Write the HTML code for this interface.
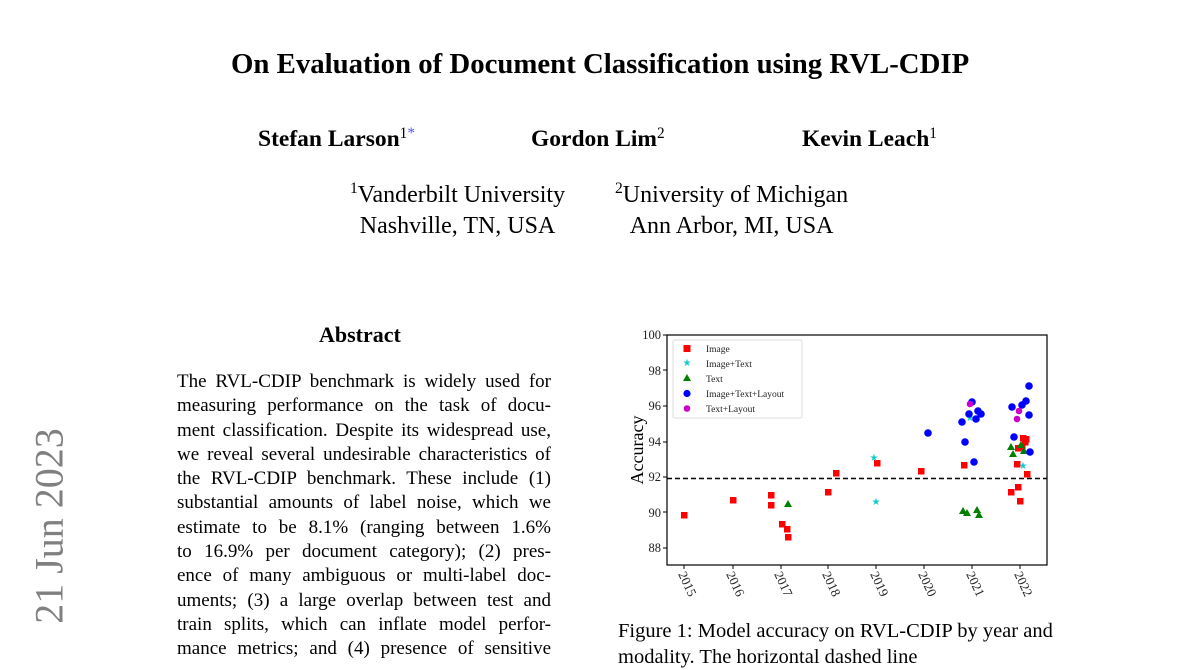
<!DOCTYPE html>
<html><head><meta charset="utf-8"><style>
body{margin:0;width:1200px;height:648px;background:#fff;overflow:hidden;position:relative;font-family:"Liberation Serif",serif;color:#000}
.a{position:absolute;white-space:nowrap}
.b{font-weight:bold}
sup{font-size:65%;vertical-align:0;position:relative;top:-0.55em;font-weight:normal}
.abs{position:absolute;left:177px;top:370px;width:374px;font-size:19px;line-height:24.3px}
.abs div{text-align:justify;text-align-last:justify;white-space:nowrap;height:24.3px}
</style></head><body>
<div class="a b" style="left:231px;top:48px;font-size:28.8px">On Evaluation of Document Classification using RVL-CDIP</div>
<div class="a b" style="left:258px;top:126px;font-size:23.5px">Stefan Larson<sup>1<span style="color:#55f">*</span></sup></div>
<div class="a b" style="left:531px;top:126px;font-size:23.5px">Gordon Lim<sup>2</sup></div>
<div class="a b" style="left:802px;top:126px;font-size:23.5px">Kevin Leach<sup>1</sup></div>
<div class="a" style="left:350px;top:181px;font-size:24px;text-align:center;line-height:28px"><sup>1</sup>Vanderbilt University<br>Nashville, TN, USA</div>
<div class="a" style="left:615px;top:181px;font-size:24px;text-align:center;line-height:28px"><sup>2</sup>University of Michigan<br>Ann Arbor, MI, USA</div>
<div class="a b" style="left:319px;top:322px;font-size:22px">Abstract</div>
<div class="abs">
<div>The RVL-CDIP benchmark is widely used for</div>
<div>measuring performance on the task of docu-</div>
<div>ment classification. Despite its widespread use,</div>
<div>we reveal several undesirable characteristics of</div>
<div>the RVL-CDIP benchmark. These include (1)</div>
<div>substantial amounts of label noise, which we</div>
<div>estimate to be 8.1% (ranging between 1.6%</div>
<div>to 16.9% per document category); (2) pres-</div>
<div>ence of many ambiguous or multi-label doc-</div>
<div>uments; (3) a large overlap between test and</div>
<div>train splits, which can inflate model perfor-</div>
<div>mance metrics; and (4) presence of sensitive</div>
</div>
<div class="a" style="left:49px;top:526px;font-size:40px;color:#808080;transform:translate(-50%,-50%) rotate(-90deg)">21 Jun 2023</div>
<div class="a" style="left:618px;top:618px;font-size:20.5px;line-height:26px">Figure 1: Model accuracy on RVL-CDIP by year and<br>modality. The horizontal dashed line</div>
<svg class="a" style="left:0;top:0" width="1200" height="648" font-family="Liberation Serif,serif">
<rect x="667" y="335" width="380" height="230" fill="none" stroke="#000" stroke-width="1.2"/>
<g font-size="12.5" text-anchor="end" fill="#222">
<text x="661" y="339">100</text><text x="661" y="375">98</text><text x="661" y="410">96</text><text x="661" y="446">94</text><text x="661" y="481">92</text><text x="661" y="517">90</text><text x="661" y="552">88</text>
</g>
<g stroke="#000"><line x1="663" x2="667" y1="335" y2="335"/><line x1="663" x2="667" y1="370" y2="370"/><line x1="663" x2="667" y1="406" y2="406"/><line x1="663" x2="667" y1="442" y2="442"/><line x1="663" x2="667" y1="477" y2="477"/><line x1="663" x2="667" y1="512" y2="512"/><line x1="663" x2="667" y1="548" y2="548"/>
<line x1="684" x2="684" y1="565" y2="569"/><line x1="733" x2="733" y1="565" y2="569"/><line x1="781" x2="781" y1="565" y2="569"/><line x1="828" x2="828" y1="565" y2="569"/><line x1="876" x2="876" y1="565" y2="569"/><line x1="924" x2="924" y1="565" y2="569"/><line x1="972" x2="972" y1="565" y2="569"/><line x1="1020" x2="1020" y1="565" y2="569"/></g>
<text transform="translate(643,450) rotate(-90)" text-anchor="middle" font-size="18">Accuracy</text>
<g font-size="13" fill="#222">
<text transform="translate(678,574) rotate(65)">2015</text><text transform="translate(726,574) rotate(65)">2016</text><text transform="translate(774,574) rotate(65)">2017</text><text transform="translate(822,574) rotate(65)">2018</text><text transform="translate(870,574) rotate(65)">2019</text><text transform="translate(918,574) rotate(65)">2020</text><text transform="translate(966,574) rotate(65)">2021</text><text transform="translate(1014,574) rotate(65)">2022</text>
</g>
<line x1="667" x2="1047" y1="478.5" y2="478.5" stroke="#000" stroke-width="1.5" stroke-dasharray="5,3"/>
<rect x="673" y="340" width="129" height="78" fill="#fff" stroke="#ddd" rx="2"/>
<g font-size="9.5" fill="#222"><text x="706" y="352">Image</text><text x="706" y="367">Image+Text</text><text x="706" y="382">Text</text><text x="706" y="397">Image+Text+Layout</text><text x="706" y="412">Text+Layout</text></g>
<rect x="683.5" y="345" width="7" height="7" fill="red"/>
<text x="687" y="366" font-size="10" fill="#1cc" text-anchor="middle">★</text>
<polygon points="687,374 691,381 683,381" fill="green"/>
<circle cx="687" cy="393.5" r="3.6" fill="blue"/>
<circle cx="687" cy="408.5" r="3.3" fill="#c0c"/>
<g fill="red">
<rect x="681" y="512" width="6.5" height="6.5"/><rect x="730" y="497" width="6.5" height="6.5"/><rect x="768" y="492" width="6.5" height="6.5"/><rect x="768" y="502" width="6.5" height="6.5"/><rect x="779" y="521" width="6.5" height="6.5"/><rect x="784" y="526" width="6.5" height="6.5"/><rect x="785" y="534" width="6.5" height="6.5"/><rect x="825" y="489" width="6.5" height="6.5"/><rect x="833" y="470" width="6.5" height="6.5"/><rect x="874" y="460" width="6.5" height="6.5"/><rect x="918" y="468" width="6.5" height="6.5"/><rect x="961" y="462" width="6.5" height="6.5"/><rect x="1008" y="489" width="6.5" height="6.5"/><rect x="1015" y="484" width="6.5" height="6.5"/><rect x="1017" y="498" width="6.5" height="6.5"/><rect x="1014" y="461" width="6.5" height="6.5"/><rect x="1015" y="445" width="6.5" height="6.5"/><rect x="1020" y="435" width="6.5" height="6.5"/><rect x="1023" y="436" width="6.5" height="6.5"/><rect x="1022" y="439" width="6.5" height="6.5"/><rect x="1024" y="471" width="6.5" height="6.5"/><rect x="1019" y="444" width="6.5" height="6.5"/>
</g>
<g fill="#1cc" font-size="10" text-anchor="middle"><text x="874" y="461">★</text><text x="876" y="505">★</text><text x="970" y="421">★</text><text x="1023" y="469">★</text></g>
<g fill="green"><polygon points="788,500 792,507 784,507"/><polygon points="963,507 967,514 959,514"/><polygon points="967,509 971,516 963,516"/><polygon points="977,506 981,513 973,513"/><polygon points="979,511 983,518 975,518"/><polygon points="1011,443 1015,450 1007,450"/><polygon points="1013,450 1017,457 1009,457"/><polygon points="1021,441 1025,448 1017,448"/><polygon points="1024,447 1028,454 1020,454"/></g>
<g fill="blue"><circle cx="928" cy="433" r="3.8"/><circle cx="962" cy="422" r="3.8"/><circle cx="965" cy="442" r="3.8"/><circle cx="969" cy="414" r="3.8"/><circle cx="972" cy="402" r="3.8"/><circle cx="978" cy="411" r="3.8"/><circle cx="981" cy="414" r="3.8"/><circle cx="976" cy="419" r="3.8"/><circle cx="974" cy="462" r="3.8"/><circle cx="1012" cy="407" r="3.8"/><circle cx="1014" cy="437" r="3.8"/><circle cx="1022" cy="405" r="3.8"/><circle cx="1026" cy="401" r="3.8"/><circle cx="1029" cy="386" r="3.8"/><circle cx="1029" cy="415" r="3.8"/><circle cx="1030" cy="452" r="3.8"/></g>
<g fill="#c0c"><circle cx="970" cy="404" r="3.3"/><circle cx="1019" cy="411" r="3.3"/><circle cx="1017" cy="419" r="3.3"/></g>
</svg>
</body></html>
